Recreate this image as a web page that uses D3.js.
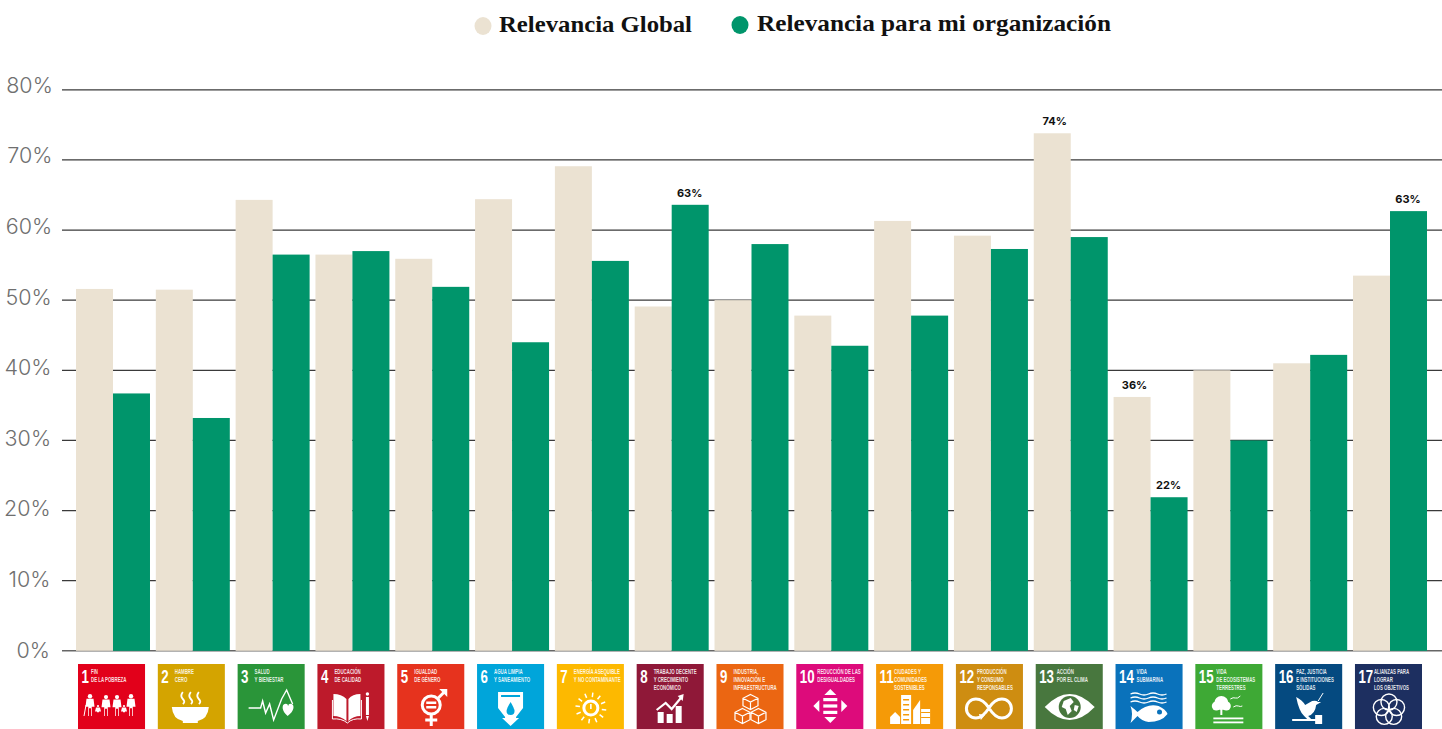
<!DOCTYPE html>
<html lang="es"><head><meta charset="utf-8">
<script src="https://cdn.jsdelivr.net/npm/d3@7"></script>
<style>html,body{margin:0;padding:0;background:#fff;overflow:hidden}svg{display:block}</style>
</head><body><svg id="c" width="1442" height="729"></svg>
<script>
const goals=["1","2","3","4","5","6","7","8","9","10","11","12","13","14","15","16","17"];
const globalValues=[51.6,51.5,64.3,56.5,55.9,64.4,69.1,49.1,50,47.8,61.3,59.2,73.8,36.2,40,41,53.5];
const orgValues=[36.7,33.2,56.5,57,51.9,44,55.6,63.6,58,43.5,47.8,57.3,59,21.9,30,42.2,62.7];
const yTicks=[0,10,20,30,40,50,60,70,80];
const seriesNames=["Relevancia Global","Relevancia para mi organización"];
const seriesColors=["#EBE2D2","#00956B"];
const labelGoalsGlobal=["13","14"];
const labelTextGlobal=["74%","36%"];
const labelGoalsOrg=["8","14","17"];
const labelTextOrg=["63%","22%","63%"];
const goalColors=["#E2001A","#D4A400","#2A9539","#BD1A2B","#E6331E","#00A5DA","#FDB900","#8F1838","#EB6612","#DD0B7B","#F59A07","#CE8D11","#48773E","#0A72BB","#3EA935","#054A80","#1D2F60"];
const goalText=[["FIN","DE LA POBREZA"],["HAMBRE","CERO"],["SALUD","Y BIENESTAR"],["EDUCACIÓN","DE CALIDAD"],["IGUALDAD","DE GÉNERO"],["AGUA LIMPIA","Y SANEAMIENTO"],["ENERGÍA ASEQUIBLE","Y NO CONTAMINANTE"],["TRABAJO DECENTE","Y CRECIMIENTO","ECONÓMICO"],["INDUSTRIA,","INNOVACIÓN E","INFRAESTRUCTURA"],["REDUCCIÓN DE LAS","DESIGUALDADES"],["CIUDADES Y","COMUNIDADES","SOSTENIBLES"],["PRODUCCIÓN","Y CONSUMO","RESPONSABLES"],["ACCIÓN","POR EL CLIMA"],["VIDA","SUBMARINA"],["VIDA","DE ECOSISTEMAS","TERRESTRES"],["PAZ, JUSTICIA","E INSTITUCIONES","SÓLIDAS"],["ALIANZAS PARA","LOGRAR","LOS OBJETIVOS"]];

const svg=d3.select("#c");
const y=d3.scaleLinear().domain([0,80]).range([650.8,89.8]);
const yLabel=d3.scaleLinear().domain([0,80]).range([650,85]);
const x=d3.scaleBand().domain(goals).range([76,1427]).paddingInner(0.073);
const xInner=d3.scaleBand().domain([0,1]).range([0,x.bandwidth()]);
const xTile=d3.scaleBand().domain(goals).range([78,1422]).paddingInner(0.16);

// grid
svg.append("g").selectAll("line").data(yTicks).join("line")
  .attr("x1",62).attr("x2",1442).attr("y1",d=>y(d)).attr("y2",d=>y(d))
  .attr("stroke",d=>d===0?"#666":"#3a3a3a").attr("stroke-width",d=>d===0?1.5:1.2);
svg.append("g").selectAll("text").data(yTicks).join("text")
  .attr("x",d=>50+d*0.035).attr("y",d=>yLabel(d)).attr("dy","0.36em").attr("text-anchor","end")
  .attr("font-family","Inter,'Open Sans',sans-serif").attr("font-weight",300)
  .attr("font-size",21.5).attr("fill","#6f6f6f").text(d=>d+"%");

// bars
[globalValues,orgValues].forEach((vals,s)=>{
  svg.append("g").selectAll("rect").data(vals).join("rect")
    .attr("x",(d,i)=>x(goals[i])+xInner(s)).attr("width",xInner.bandwidth())
    .attr("y",d=>y(d)).attr("height",d=>y(0)-y(d)).attr("fill",seriesColors[s]);
});
// value labels
[[globalValues,labelGoalsGlobal,labelTextGlobal,0,2.5],[orgValues,labelGoalsOrg,labelTextOrg,1,-.5]].forEach(([vals,keep,txt,s,dx])=>{
  svg.append("g").selectAll("text").data(keep).join("text")
    .attr("x",g=>x(g)+xInner(s)+xInner.bandwidth()/2+dx).attr("y",g=>y(vals[goals.indexOf(g)])-8)
    .attr("text-anchor","middle").attr("font-family","Inter,sans-serif").attr("font-weight",700)
    .attr("font-size",11).attr("fill","#111").text((g,i)=>txt[i]);
});

// legend
const legend=svg.append("g");
[[483,499,193],[740,757,354]].forEach(([cx,tx,w],i)=>{
  legend.append("ellipse").attr("cx",cx).attr("cy",26-i).attr("rx",8.5).attr("ry",9).attr("fill",seriesColors[i]);
  legend.append("text").attr("x",tx).attr("y",32-i).attr("font-family","'Liberation Serif',serif").attr("font-weight",700)
    .attr("font-size",23).attr("fill","#111").attr("textLength",w).attr("lengthAdjust","spacingAndGlyphs").text(seriesNames[i]);
});

// SDG icons
const W="#fff";
const P=(g,d)=>g.append("path").attr("d",d).attr("fill",W);
const S=(g,d,w=2)=>g.append("path").attr("d",d).attr("fill","none").attr("stroke",W).attr("stroke-width",w);
const C=(g,cx,cy,r)=>g.append("circle").attr("cx",cx).attr("cy",cy).attr("r",r).attr("fill",W);
const R=(g,a,b,w,h)=>g.append("rect").attr("x",a).attr("y",b).attr("width",w).attr("height",h).attr("fill",W);
const cube=(g,cx,cy,s)=>S(g,`M${cx} ${cy-s}L${cx+s} ${cy-s/2}V${cy+s/2}L${cx} ${cy+s}L${cx-s} ${cy+s/2}V${cy-s/2}ZM${cx-s} ${cy-s/2}L${cx} ${cy}L${cx+s} ${cy-s/2}M${cx} ${cy}V${cy+s}`,1.2);
const person=(g,cx,top,h,w)=>{C(g,cx,top+h*.1,h*.1);
  g.append("path").attr("d",`M${cx-w/2} ${top+h*.22}H${cx+w/2}L${cx+w/2+1} ${top+h*.58}H${cx+w/4}V${top+h}H${cx+1}V${top+h*.65}H${cx-1}V${top+h}H${cx-w/4}V${top+h*.58}H${cx-w/2-1}Z`).attr("fill",W);};
const icons=[
 g=>{person(g,12,30,22,7);person(g,20,41,11,4);person(g,28,31,21,7);person(g,39,31,21,7);person(g,46,41,11,4);person(g,53,30,22,7);S(g,"M8 41L6 52",1);},
 g=>{P(g,"M14 43H51Q50 55 40 57V59H25V57Q15 55 14 43Z");["M25 28Q22 32 25 35T25 40","M33 28Q30 32 33 35T33 40","M41 28Q38 32 41 35T41 40"].forEach(d=>S(g,d,1.8));},
 g=>{S(g,"M11 44H23L25 37L28 49L32 40L36 56L44 35L49 26L55 40",1.4);P(g,"M50 52C44 47 44 41 47 40Q50 39 50.500 42Q51 39 54 40C57 41 57 47 50 52Z");},
 g=>{P(g,"M16 30Q24 30 29 35V57Q23 52 16 52Z");P(g,"M43 30Q35 30 31 35V57Q36 52 43 52Z");S(g,"M15 36V55Q24 54 30 59Q35 54 44 55V36",1);R(g,48.5,33,3,18);P(g,"M48.5 52H51.5L50 57Z");C(g,50,30,1.7);},
 g=>{g.append("circle").attr("cx",34).attr("cy",41).attr("r",9).attr("fill","none").attr("stroke",W).attr("stroke-width",3);R(g,29,37.5,10,2.5);R(g,29,42,10,2.5);S(g,"M41 34L48 27",3);P(g,"M42 25H50V33L47 30Z");R(g,32.5,50,3,12);R(g,28,54.5,12,3);},
 g=>{P(g,"M21 28H46V44L39 53V54H42L33.5 62L25 54H28V53L21 44Z");g.append("path").attr("d","M33.5 38C30 44 29.5 46 29.5 47A4 4 0 0 0 37.5 47C37.5 46 37 44 33.5 38Z").attr("fill",goalColors[5]);g.append("path").attr("d","M24 31H43V33H24Z").attr("fill",goalColors[5]);},
 g=>{g.append("circle").attr("cx",34).attr("cy",44).attr("r",7).attr("fill","none").attr("stroke",W).attr("stroke-width",3);S(g,"M34 40V45",1.6);d3.range(12).forEach(i=>{const a=i*Math.PI/6+.13;S(g,`M${34+11*Math.cos(a)} ${44+11*Math.sin(a)}L${34+15.5*Math.cos(a)} ${44+15.5*Math.sin(a)}`,1.5);});},
 g=>{R(g,21,48,6,11);R(g,30,50,6,9);R(g,39,42,6,17);S(g,"M20 46L29 39L35 45L45 33",2.2);P(g,"M41 32L47 30L46 37Z");},
 g=>{cube(g,34,38,7.5);cube(g,26,52,7.5);cube(g,42,52,7.5);},
 g=>{P(g,"M34 25L40 31H28Z");P(g,"M34 59L40 53H28Z");P(g,"M17 42L23 36V48Z");P(g,"M51 42L45 36V48Z");R(g,27,34,14,3.2);R(g,27,40.4,14,3.2);R(g,27,46.8,14,3.2);},
 g=>{P(g,"M14 53L19 48L24 53V60H14Z");R(g,25,31,10,29);P(g,"M37 60V46L44 36V60Z");R(g,45,45,9,15);[35,40,45,50,55].forEach(v=>g.append("rect").attr("x",27).attr("y",v).attr("width",6).attr("height",1.5).attr("fill",goalColors[10]));[48,53].forEach(v=>g.append("rect").attr("x",45).attr("y",v).attr("width",9).attr("height",1).attr("fill",goalColors[10]));},
 g=>{S(g,"M33 44C28 36 23 35 20 35A9.5 9.5 0 0 0 20 54C24 54 28 52 33 44C38 36 42 35 46 35A9.5 9.5 0 0 1 46 54C42 54 38 52 33 44",3);P(g,"M23 50L29 51L25 56Z");},
 g=>{P(g,"M9 43Q34 17 59 43Q34 69 9 43Z");g.append("circle").attr("cx",34).attr("cy",43).attr("r",11).attr("fill",goalColors[12]);P(g,"M28 37L35 34L38 38L34 42L36 47L32 51L30 45L26 43Z");P(g,"M39 41L43 42L41 48L38 46Z");},
 g=>{["M15 30q4.500 -2 9 0t9 0t9 0t9 0","M15 34q4.500 -2 9 0t9 0t9 0t9 0","M15 38q4.500 -2 9 0t9 0t9 0t9 0"].forEach(d=>S(g,d,1.3));P(g,"M15 42Q20 46 22 48Q32 39 43 42Q50 45 52 50Q46 58 33 58Q26 57 22 52Q19 55 15 59Q18 50 15 42Z");g.append("circle").attr("cx",44).attr("cy",48).attr("r",2.5).attr("fill",goalColors[13]);},
 g=>{C(g,26,39,7);C(g,21,42,4.5);C(g,31,42,4.5);R(g,25,44,2,7);R(g,18,53.5,30,1.8);R(g,18,57.5,30,1.8);S(g,"M35 35q3 -2 5 -1t5 -2M38 43q3 -2 5 -1t4 0",1);},
 g=>{P(g,"M21 33Q27 36 30 41L37 37Q41 36 43 38L46 38L41 41Q40 50 33 52L36 55H32L29 52Q24 48 21 33Z");S(g,"M43 37L48 29",1);R(g,17,55,26,2);R(g,40,51,7,9);},
 g=>{[[34,38],[41.600,43.500],[38.700,52.400],[29.300,52.400],[26.400,43.500]].forEach(([a,b])=>g.append("circle").attr("cx",a).attr("cy",b).attr("r",8).attr("fill","none").attr("stroke",W).attr("stroke-width",1.4));}
];
const tiles=svg.append("g").selectAll("g").data(goals).join("g").attr("transform",g=>`translate(${xTile(g)},664)`);
tiles.append("rect").attr("width",xTile.bandwidth()).attr("height",67).attr("fill",(d,i)=>goalColors[i]);
tiles.append("text").attr("transform","translate(3.5,18.5) scale(.74,1)").attr("font-family","'Liberation Sans',sans-serif").attr("font-weight",700).attr("font-size",18).attr("fill",W).text(d=>d);
const labelX=d=>d==="1"?13:d==="11"?18:d==="17"?19:+d>9?21:17;
tiles.each(function(d,i){
  const g=d3.select(this);
  goalText[i].forEach((t,k)=>g.append("text").attr("transform",`translate(${labelX(d)},${10+k*8}) scale(.66,1)`).attr("font-family","'Liberation Sans',sans-serif").attr("font-weight",700).attr("font-size",6.6).attr("fill","#fff").attr("fill-opacity",.88).text(t));
  icons[i](g);
});
</script></body></html>
